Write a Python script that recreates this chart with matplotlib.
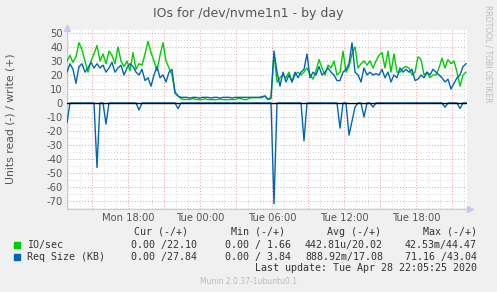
import numpy as np
import matplotlib.pyplot as plt

# munin "diskstats_iops" by day, values sampled every 15 minutes
# time axis in hours counted from Mon 00:00
t_start = 12.92
t_step = 0.25

io_write = [30, 34, 29, 33, 43, 38, 30, 22, 30, 35,
            41, 30, 35, 28, 37, 34, 28, 40, 30, 26,
            30, 23, 36, 24, 28, 27, 35, 44, 36, 30,
            23, 34, 43, 30, 25, 20, 8, 5, 3, 2.5,
            2.5, 2.5, 3.2, 2.5, 2.4, 2.4, 3.0, 2.4, 2.4, 2.4,
            2.4, 2.8, 2.4, 2.4, 2.4, 2.4, 2.4, 3.3, 3.0, 2.4,
            2.4, 3.6, 3.8, 3.8, 3.8, 3.8, 5, 2.5, 3, 35,
            15, 18, 20, 18, 22, 15, 20, 22, 20, 22,
            25, 20, 17, 23, 31, 25, 20, 27, 25, 30,
            20, 22, 37, 22, 26, 35, 40, 25, 28, 30,
            27, 30, 25, 30, 34, 36, 25, 37, 22, 35,
            22, 22, 25, 26, 25, 20, 22, 33, 31, 20,
            22, 18, 20, 20, 25, 32, 25, 31, 28, 30,
            22, 12, 20, 22]

req_write = [22, 28, 24, 14, 26, 28, 22, 25, 29, 25,
             28, 25, 27, 22, 25, 29, 22, 25, 27, 20,
             25, 28, 26, 22, 20, 24, 16, 18, 12, 20,
             26, 18, 20, 15, 22, 24, 7, 5, 4, 4,
             4, 3.5, 4, 4, 3.5, 4, 4, 4, 3.5, 4,
             4, 3.5, 4, 4, 4, 3.5, 4, 4, 4, 4,
             4, 4, 4, 4, 4, 4.5, 5, 2.5, 4, 37,
             22, 12, 22, 15, 20, 15, 22, 18, 22, 24,
             35, 18, 22, 20, 26, 20, 22, 25, 22, 20,
             16, 16, 22, 24, 28, 43, 22, 20, 15, 25,
             20, 22, 20, 21, 20, 24, 18, 22, 15, 20,
             18, 25, 22, 24, 22, 24, 16, 17, 20, 18,
             22, 20, 24, 22, 20, 18, 15, 17, 10, 14,
             18, 20, 26, 28]

req_read = [-14, 0, 0, 0, 0, 0, 0, 0, 0, 0,
            -46, 0, 0, -15, 0, 0, 0, 0, 0, 0,
            0, 0, 0, 0, -5, 0, 0, 0, 0, 0,
            0, 0, 0, 0, 0, 0, 0, -4, 0, 0,
            0, 0, 0, 0, 0, 0, 0, 0, 0, 0,
            0, 0, 0, 0, 0, 0, 0, 0, 0, 0,
            0, 0, 0, 0, 0, 0, 0, 0, 0, -72,
            0, 0, 0, 0, 0, 0, 0, 0, 0, -27,
            0, 0, 0, 0, 0, 0, 0, 0, 0, 0,
            0, -18, 0, 0, -23, -13, -3, 0, 0, -10,
            0, 0, -3, 0, 0, 0, 0, 0, 0, 0,
            0, 0, 0, 0, 0, 0, 0, 0, 0, 0,
            0, 0, 0, 0, 0, 0, -3, 0, 0, 0,
            0, -4, 0, 0]

xtick_pos = [18, 24, 30, 36, 42]
xtick_lab = ["Mon 18:00", "Tue 00:00", "Tue 06:00", "Tue 12:00", "Tue 18:00"]
ytick_pos = [50, 40, 30, 20, 10, 0, -10, -20, -30, -40, -50, -60, -70]

legend_rows = [("IO/sec", "#00CC00", "0.00 /22.10", "0.00 / 1.66", "442.81u/20.02", "42.53m/44.47"),
               ("Req Size (KB)", "#0066B3", "0.00 /27.84", "0.00 / 3.84", "888.92m/17.08", "71.16 /43.04")]

t = t_start + t_step * np.arange(len(io_write))
x0, x1 = t_start, t_start + 400 / 12.0
y0, y1 = -75.7, 52.1

W, H = 497, 292
fig = plt.figure(figsize=(W / 100, H / 100), dpi=100, facecolor="#F0F0F0")
ax = fig.add_axes([67 / W, 1 - 209 / H, 400 / W, 179 / H], facecolor="white")
ax.set_xlim(x0, x1)
ax.set_ylim(y0, y1)

# grid
for h in np.arange(13, 47, 1):
    if h % 3 != 0:
        ax.axvline(h, color="#D8D8D8", lw=0.7, ls=(0, (1, 2)), zorder=0)
for v in np.arange(-75, 52, 5):
    if v % 10 != 0:
        ax.axhline(v, color="#D8D8D8", lw=0.7, ls=(0, (1, 2)), zorder=0)
for h in np.arange(15, 47, 3):
    ax.axvline(h, color="#F29A9A", lw=0.7, ls=(0, (1, 2)), zorder=0)
for v in ytick_pos:
    if v != 0:
        ax.axhline(v, color="#F29A9A", lw=0.7, ls=(0, (1, 2)), zorder=0)

ax.plot(t, req_read, color="#0066B3", lw=1.0, zorder=3)
ax.plot(t, io_write, color="#00CC00", lw=1.0, zorder=3)
ax.plot(t, req_write, color="#0066B3", lw=1.0, zorder=4)
ax.axhline(0, color="black", lw=1.0, zorder=5)

for s in ["top", "right"]:
    ax.spines[s].set_visible(False)
for s in ["left", "bottom"]:
    ax.spines[s].set_color("#C8C8F0")
ax.plot([x0], [y1 + 1.5], marker="^", color="#C8C8F0", ms=4, clip_on=False)
ax.plot([x1 + 0.25], [y0], marker=">", color="#C8C8F0", ms=4, clip_on=False)

ax.set_xticks(xtick_pos)
ax.set_xticklabels(xtick_lab)
ax.set_yticks(ytick_pos)
ax.set_yticklabels([str(v) for v in ytick_pos])
ax.tick_params(axis="both", length=0, labelsize=7.2, labelcolor="#555555", pad=3)

fig.text(248 / W, 1 - 14 / H, "IOs for /dev/nvme1n1 - by day", ha="center", va="center",
         fontsize=9, color="#555555")
fig.text(11 / W, 1 - 119 / H, "Units read (-) / write (+)", rotation=90, ha="center",
         va="center", fontsize=7.8, color="#555555")
fig.text(488 / W, 1 - 5 / H, "RRDTOOL / TOBI OETIKER", rotation=270, ha="center", va="top",
         fontsize=5.5, color="#BBBBBB")

mono = dict(family="DejaVu Sans Mono", fontsize=7.2, color="#333333", va="center")
hy = 1 - 232 / H
fig.text(134 / W, hy, "Cur (-/+)", ha="left", **mono)
fig.text(231 / W, hy, "Min (-/+)", ha="left", **mono)
fig.text(327 / W, hy, "Avg (-/+)", ha="left", **mono)
fig.text(477 / W, hy, "Max (-/+)", ha="right", **mono)
for k, (name, col, cur, mn, avg, mx) in enumerate(legend_rows):
    ry = 1 - (245 + 12 * k) / H
    fig.patches.append(plt.Rectangle((14 / W, ry - 3 / H), 6 / W, 6 / H, color=col,
                                     transform=fig.transFigure))
    fig.text(27 / W, ry, name, ha="left", **mono)
    fig.text(197 / W, ry, cur, ha="right", **mono)
    fig.text(291 / W, ry, mn, ha="right", **mono)
    fig.text(383 / W, ry, avg, ha="right", **mono)
    fig.text(477 / W, ry, mx, ha="right", **mono)
fig.text(477 / W, 1 - 268 / H, "Last update: Tue Apr 28 22:05:25 2020", ha="right", **mono)
fig.text(248 / W, 1 - 281 / H, "Munin 2.0.37-1ubuntu0.1", ha="center", va="center",
         fontsize=5.5, color="#BBBBBB")

fig.savefig("out.png", dpi=100, facecolor=fig.get_facecolor())
